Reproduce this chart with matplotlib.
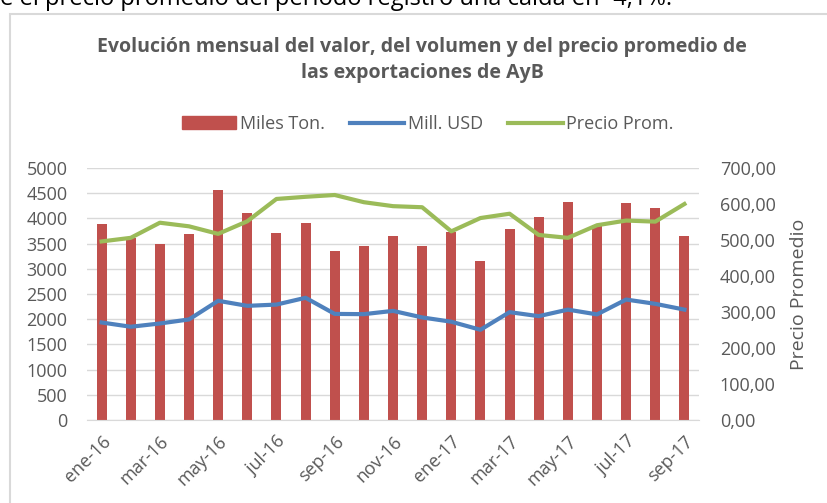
import matplotlib.pyplot as plt
from matplotlib.patches import Rectangle
from matplotlib.lines import Line2D
from matplotlib.patches import Patch

plt.rcParams["font.family"] = ["Open Sans", "DejaVu Sans"]

MONTHS = ["ene-16", "feb-16", "mar-16", "abr-16", "may-16", "jun-16", "jul-16",
          "ago-16", "sep-16", "oct-16", "nov-16", "dic-16", "ene-17", "feb-17",
          "mar-17", "abr-17", "may-17", "jun-17", "jul-17", "ago-17", "sep-17"]
MILES_TON = [3880, 3620, 3490, 3690, 4560, 4110, 3710, 3910, 3360, 3450, 3660,
             3450, 3730, 3160, 3780, 4030, 4320, 3860, 4300, 4210, 3660]
MILL_USD = [1935, 1850, 1915, 1995, 2365, 2265, 2290, 2425, 2105, 2100, 2165,
            2035, 1950, 1790, 2140, 2060, 2190, 2095, 2390, 2305, 2190]
PRECIO = [496, 506, 548, 538, 517, 552, 614, 620, 625, 605, 594, 591, 524, 561,
          573, 514, 506, 541, 554, 551, 600]

RED = "#C0504D"
BLUE = "#4F81BD"
GREEN = "#9BBB59"
GREY = "#595959"
GRID = "#D9D9D9"


def main():
    fig = plt.figure(figsize=(8.27, 5.03), dpi=100)

    # text from the surrounding document, cut off at the top
    fig.text(0.0, 1 - 5 / 503, "e el precio promedio del período registró una caída en -4,1%.",
             fontsize=17, color="black", va="baseline", ha="left")

    # chart frame
    fig.patches.append(Rectangle((10 / 827, -0.05), 1.0, (489 / 503) + 0.05,
                                 transform=fig.transFigure, fill=False,
                                 edgecolor=GRID, linewidth=1.5))

    ax = fig.add_axes([87 / 827, 83 / 503, 612 / 827, 252 / 503])
    ax2 = ax.twinx()

    x = range(len(MONTHS))
    ax.bar(x, MILES_TON, width=0.34, color=RED, zorder=2)
    ax.plot(x, MILL_USD, color=BLUE, linewidth=3, zorder=3)
    ax2.plot(x, PRECIO, color=GREEN, linewidth=3, zorder=3)

    ax.set_xlim(-0.5, len(MONTHS) - 0.5)
    ax.set_ylim(0, 5000)
    ax.set_yticks(range(0, 5001, 500))
    ax2.set_ylim(0, 700)
    ax2.set_yticks(range(0, 701, 100))
    ax2.set_yticklabels([f"{v},00" for v in range(0, 701, 100)])

    ax.set_xticks(list(x)[::2])
    ax.set_xticklabels(MONTHS[::2], rotation=45, ha="right", va="top",
                       rotation_mode="anchor")

    ax.grid(axis="y", color=GRID, linewidth=1, zorder=0)
    ax.set_axisbelow(True)
    for a in (ax, ax2):
        for s in a.spines.values():
            s.set_visible(False)
        a.tick_params(length=0, labelsize=13, colors=GREY)
    ax.spines["bottom"].set_visible(True)
    ax.spines["bottom"].set_color(GRID)
    ax.tick_params(axis="y", pad=14)
    ax.tick_params(axis="x", pad=9)
    ax2.tick_params(axis="y", pad=15)

    ax2.set_ylabel("Precio Promedio", fontsize=14, color=GREY, labelpad=10)

    fig.text(422 / 827, 1 - 60 / 503,
             "Evolución mensual del valor, del volumen y del precio promedio de\nlas exportaciones de AyB",
             ha="center", va="center", fontsize=14, fontweight="bold",
             color=GREY, linespacing=1.35)

    handles = [Patch(color=RED), Line2D([], [], color=BLUE, linewidth=3),
               Line2D([], [], color=GREEN, linewidth=3)]
    fig.legend(handles, ["Miles Ton.", "Mill. USD", "Precio Prom."],
               loc="center", bbox_to_anchor=(428 / 827, 1 - 124 / 503), ncol=3,
               frameon=False, fontsize=13, labelcolor=GREY, handlelength=3,
               handletextpad=0.2, columnspacing=1.4)

    fig.savefig("out.png", dpi=100)
    plt.close(fig)


if __name__ == "__main__":
    main()
